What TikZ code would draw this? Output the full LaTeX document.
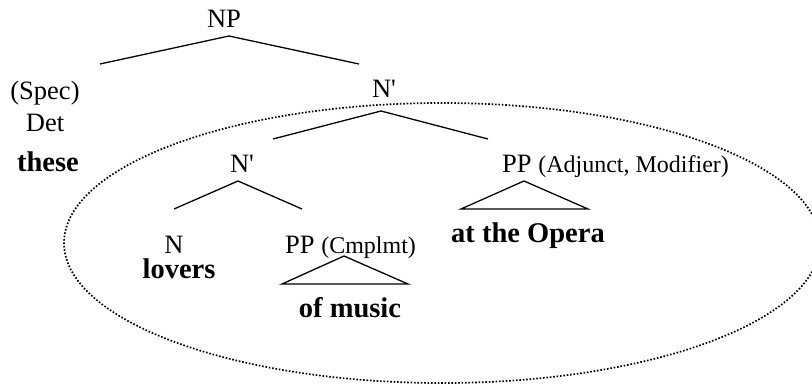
\documentclass[tikz,border=0pt]{standalone}
\usepackage{fontspec}
\setmainfont{Liberation Serif}
\begin{document}
\begin{tikzpicture}[x=1pt,y=-1pt,
  lab/.style={inner sep=0pt, anchor=base, font=\fontsize{26.5}{30}\selectfont},
  word/.style={inner sep=0pt, anchor=base, font=\fontsize{28.5}{32}\selectfont\bfseries},
  branch/.style={line width=1.3pt, line join=miter},
  ring/.style={line width=1.7pt, dash pattern=on 1.6pt off 1.8pt}]
\useasboundingbox (0,0) rectangle (812,385);

% dotted ring around the N' constituent
\draw[ring] (442,243) ellipse [x radius=378pt, y radius=140pt];

% category labels and words
\node[lab] (np) at (224,28) {NP};
\node[lab] (spec) at (45,100) {(Spec)};
\node[lab] (det) at (45,132) {Det};
\node[word] (these) at (48,172) {these};
\node[lab] (nbarA) at (384,98) {N\textquotesingle};
\node[lab] (nbarB) at (242,173) {N\textquotesingle};
\node[lab] (n) at (174,253) {N};
\node[word] (lovers) at (179,278) {lovers};
\node[lab, anchor=base west] (ppc) at (285,253) {PP {\fontsize{24}{28}\selectfont(Cmplmt)}};
\node[word] (ofmusic) at (350,317) {of music};
\node[lab, anchor=base west] (ppa) at (502,173) {PP {\fontsize{24}{28}\selectfont(Adjunct, Modifier)}};
\node[word] (opera) at (528,243) {at the Opera};

% branch points
\coordinate (npTop) at (229,36);
\coordinate (npL) at (100,64);
\coordinate (npR) at (359,64);
\coordinate (aTop) at (381,111);
\coordinate (aL) at (273,139);
\coordinate (aR) at (488,139);
\coordinate (bTop) at (238,181);
\coordinate (bL) at (174,209);
\coordinate (bR) at (302,209);
\coordinate (cTop) at (344,256);
\coordinate (cL) at (282,284);
\coordinate (cR) at (408,284);
\coordinate (dTop) at (524,181);
\coordinate (dL) at (461,209);
\coordinate (dR) at (588,209);

% branches
\draw[branch] (npL) -- (npTop) -- (npR);
\draw[branch] (aL) -- (aTop) -- (aR);
\draw[branch] (bL) -- (bTop) -- (bR);
% roof triangles
\draw[branch] (cL) -- (cTop) -- (cR) -- cycle;
\draw[branch] (dL) -- (dTop) -- (dR) -- cycle;
\end{tikzpicture}
\end{document}
